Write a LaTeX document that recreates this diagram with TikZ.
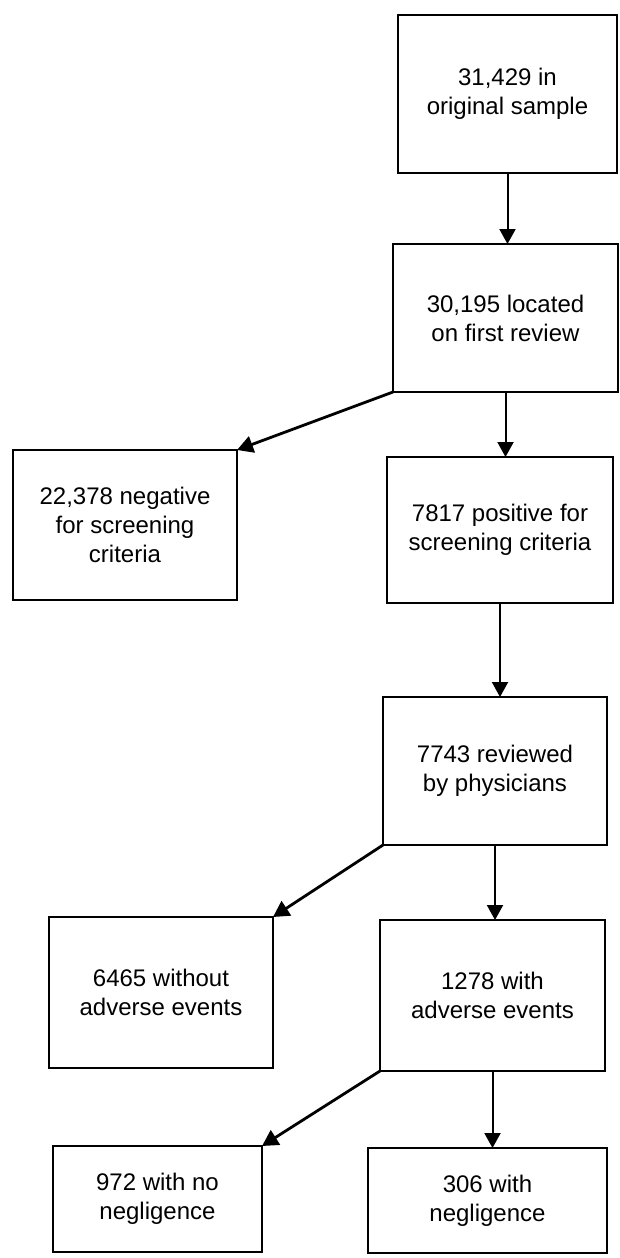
\documentclass[tikz,border=0pt]{standalone}
\usepackage{fontspec}
\setmainfont{Liberation Sans}
\usetikzlibrary{arrows.meta}
\begin{document}
\begin{tikzpicture}[x=1pt,y=-1pt,
  flowbox/.style={draw=black, line width=2.6pt, outer sep=0pt, inner sep=0pt,
    align=center, font=\fontsize{24}{29}\selectfont, text=black},
  flowarrow/.style={draw=black, line width=2pt,
    -{Triangle[width=16pt,length=15pt]}},
  diagarrow/.style={draw=black, line width=2.8pt,
    -{Triangle[width=17pt,length=16pt]}}]
\useasboundingbox (0,0) rectangle (619,1258);
\node[flowbox, minimum width=219pt, minimum height=158pt] (b1) at (507.5,94) {31,429 in\\original sample};
\node[flowbox, minimum width=225pt, minimum height=148pt] (b2) at (505.5,318) {30,195 located\\on first review};
\node[flowbox, minimum width=224pt, minimum height=150pt] (b3) at (125,525) {22,378 negative\\for screening\\criteria};
\node[flowbox, minimum width=226pt, minimum height=146pt] (b4) at (500,530) {7817 positive for\\screening criteria};
\node[flowbox, minimum width=224pt, minimum height=148pt] (b5) at (495,771) {7743 reviewed\\by physicians};
\node[flowbox, minimum width=224pt, minimum height=151pt] (b6) at (161,992.5) {6465 without\\adverse events};
\node[flowbox, minimum width=225pt, minimum height=151pt] (b7) at (492.5,995.5) {1278 with\\adverse events};
\node[flowbox, minimum width=209pt, minimum height=106pt] (b8) at (157.5,1199) {972 with no\\negligence};
\node[flowbox, minimum width=239pt, minimum height=105pt] (b9) at (487.5,1200.5) {306 with\\negligence};
\draw[flowarrow] (b1.south) -- (b1.south |- b2.north);
\draw[flowarrow] (b2.south) -- (b2.south |- b4.north);
\draw[flowarrow] (b4.south) -- (b4.south |- b5.north);
\draw[flowarrow] (b5.south) -- (b5.south |- b7.north);
\draw[flowarrow] (b7.south) -- (b7.south |- b9.north);
\draw[diagarrow] (b2.south west) -- (b3.north east);
\draw[diagarrow] (b5.south west) -- (b6.north east);
\draw[diagarrow] (b7.south west) -- (b8.north east);
\end{tikzpicture}
\end{document}
